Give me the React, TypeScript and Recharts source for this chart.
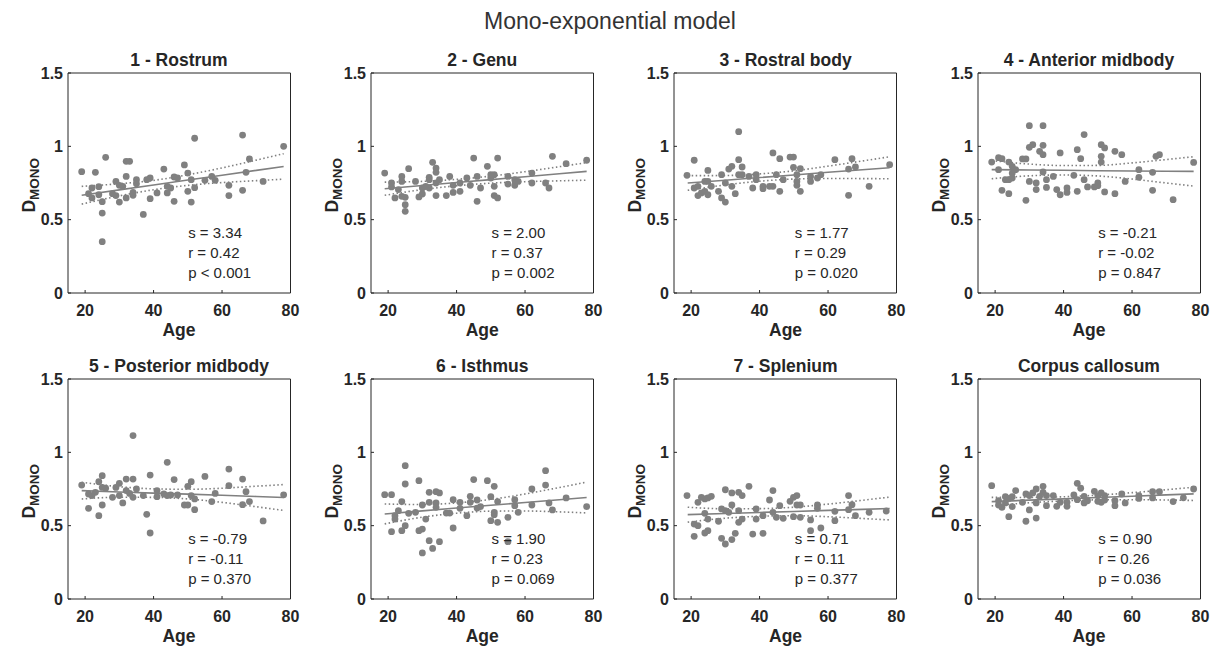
import React from 'react';
import { ComposedChart, Scatter, Line, XAxis, YAxis } from 'recharts';

const FONT = '"Liberation Sans", Arial, Helvetica, sans-serif';
const AXIS = '#262626';
const GREY = '#808080';

const mainTitle = 'Mono-exponential model';
const regionTitles = ['1 - Rostrum', '2 - Genu', '3 - Rostral body', '4 - Anterior midbody', '5 - Posterior midbody', '6 - Isthmus', '7 - Splenium', 'Corpus callosum'];
const slopeLabels = ['3.34', '2.00', '1.77', '-0.21', '-0.79', '1.90', '0.71', '0.90'];
const rLabels = ['0.42', '0.37', '0.29', '-0.02', '-0.11', '0.23', '0.11', '0.26'];
const pLabels = ['< 0.001', '= 0.002', '= 0.020', '= 0.847', '= 0.370', '= 0.069', '= 0.377', '= 0.036'];
const xTicks = [20, 40, 60, 80];
const yTicks = [0, 0.5, 1, 1.5];
const fitAges = [19, 30, 40, 50, 60, 70, 78];

const rostrumPts: [number, number][] = [
  [19, 0.827], [23, 0.823], [26, 0.925], [25, 0.35], [25, 0.545], [25, 0.623], [21, 0.677], [22, 0.716], [24, 0.725], [24, 0.67],
  [22, 0.648], [29, 0.761], [28, 0.677], [30, 0.734], [30, 0.62], [29, 0.664], [32, 0.898], [33, 0.898], [32, 0.795], [32, 0.648],
  [31, 0.727], [34, 0.686], [34, 0.666], [35, 0.773], [35, 0.745], [37, 0.536], [38, 0.773], [39, 0.784], [39, 0.643], [41, 0.682],
  [43, 0.845], [44, 0.682], [44, 0.727], [45, 0.716], [46, 0.625], [46, 0.791], [47, 0.784], [49, 0.873], [50, 0.818], [50, 0.693],
  [51, 0.773], [51, 0.62], [52, 1.055], [52, 0.718], [55, 0.768], [57, 0.795], [58, 0.768], [62, 0.734], [62, 0.664], [66, 1.077],
  [66, 0.7], [67, 0.823], [68, 0.914], [72, 0.761], [78, 1.0],
];
const genuPts: [number, number][] = [
  [19, 0.818], [21, 0.75], [21, 0.723], [22, 0.648], [23, 0.705], [24, 0.795], [24, 0.761], [24, 0.659], [25, 0.652], [25, 0.602],
  [25, 0.557], [26, 0.848], [28, 0.761], [29, 0.655], [30, 0.716], [30, 0.675], [31, 0.727], [32, 0.789], [32, 0.773], [32, 0.716],
  [33, 0.891], [34, 0.852], [34, 0.823], [34, 0.75], [34, 0.664], [35, 0.773], [37, 0.664], [38, 0.795], [39, 0.734], [39, 0.686],
  [41, 0.693], [41, 0.75], [43, 0.784], [44, 0.734], [45, 0.92], [46, 0.795], [46, 0.625], [47, 0.716], [49, 0.864], [50, 0.807],
  [50, 0.784], [51, 0.807], [51, 0.727], [51, 0.664], [52, 0.92], [52, 0.648], [55, 0.795], [55, 0.743], [57, 0.773], [57, 0.734],
  [58, 0.761], [62, 0.818], [62, 0.75], [66, 0.75], [67, 0.716], [68, 0.932], [72, 0.882], [78, 0.905],
];
const rostralBodyPts: [number, number][] = [
  [18.8, 0.802], [20.9, 0.905], [20.9, 0.716], [22, 0.727], [22, 0.664], [23, 0.682], [24, 0.761], [24, 0.693], [24.9, 0.836], [24.9, 0.761],
  [24.9, 0.67], [25.9, 0.727], [28, 0.693], [28.9, 0.807], [28.9, 0.648], [30, 0.75], [30, 0.62], [31, 0.845], [31.9, 0.864], [31.9, 0.727],
  [32.9, 0.677], [33.9, 1.1], [33.9, 0.909], [33.9, 0.807], [34.9, 0.859], [34.9, 0.807], [36.9, 0.795], [38, 0.716], [39, 0.807], [39, 0.773],
  [41, 0.727], [41, 0.711], [42.9, 0.727], [43.9, 0.955], [43.9, 0.727], [44.9, 0.807], [45.9, 0.916], [45.9, 0.693], [46.9, 0.773], [48.9, 0.927],
  [49.9, 0.927], [49.9, 0.857], [50.9, 0.807], [50.9, 0.761], [50.9, 0.734], [51.9, 0.848], [51.9, 0.693], [54.9, 0.795], [54.9, 0.761], [56.9, 0.784],
  [57.9, 0.807], [62, 0.909], [66, 0.845], [66, 0.666], [67, 0.916], [68, 0.859], [72, 0.727], [78, 0.875],
];
const anteriorMidbodyPts: [number, number][] = [
  [19, 0.893], [21, 0.923], [21, 0.841], [22, 0.916], [22, 0.7], [23, 0.773], [24, 0.893], [24, 0.773], [24, 0.677], [25, 0.864],
  [25, 0.818], [25, 0.784], [26, 0.841], [28, 0.914], [29, 0.914], [29, 0.632], [30, 1.141], [30, 0.993], [30, 0.761], [31, 1.011],
  [32, 0.75], [32, 0.705], [33, 0.966], [34, 1.141], [34, 1.007], [34, 0.943], [34, 0.825], [35, 0.773], [35, 0.72], [37, 0.795],
  [38, 0.705], [39, 0.955], [39, 0.67], [41, 0.716], [41, 0.686], [43, 0.802], [44, 0.977], [44, 0.693], [45, 0.916], [46, 1.08],
  [46, 0.773], [47, 0.723], [49, 0.723], [50, 0.732], [50, 0.75], [51, 1.011], [51, 0.932], [51, 0.893], [52, 0.989], [52, 0.689],
  [55, 0.966], [55, 0.677], [57, 0.943], [58, 0.761], [62, 0.841], [62, 0.789], [66, 0.823], [66, 0.7], [67, 0.932], [68, 0.943],
  [72, 0.636], [78, 0.89],
];
const posteriorMidbodyPts: [number, number][] = [
  [19, 0.777], [21, 0.618], [21, 0.716], [22, 0.705], [23, 0.727], [24, 0.8], [24, 0.568], [25, 0.841], [25, 0.761], [25, 0.641],
  [26, 0.755], [28, 0.693], [29, 0.761], [30, 0.789], [30, 0.705], [31, 0.655], [32, 0.818], [32, 0.739], [33, 0.72], [34, 1.114],
  [34, 0.818], [34, 0.693], [35, 0.75], [37, 0.705], [38, 0.577], [39, 0.845], [39, 0.45], [41, 0.739], [41, 0.698], [43, 0.716],
  [44, 0.932], [44, 0.705], [45, 0.709], [46, 0.814], [47, 0.709], [49, 0.641], [50, 0.641], [50, 0.768], [51, 0.8], [51, 0.705],
  [52, 0.609], [52, 0.682], [55, 0.836], [57, 0.664], [58, 0.72], [62, 0.886], [62, 0.773], [66, 0.818], [66, 0.643], [67, 0.732],
  [68, 0.664], [72, 0.532], [78, 0.71],
];
const isthmusPts: [number, number][] = [
  [19, 0.711], [21, 0.711], [21, 0.459], [22, 0.545], [22, 0.568], [23, 0.602], [24, 0.664], [24, 0.466], [25, 0.909], [25, 0.784],
  [25, 0.5], [26, 0.584], [28, 0.591], [29, 0.807], [29, 0.466], [30, 0.477], [30, 0.641], [30, 0.314], [31, 0.545], [32, 0.727],
  [32, 0.659], [32, 0.398], [33, 0.345], [34, 0.732], [34, 0.655], [34, 0.625], [35, 0.723], [35, 0.391], [37, 0.586], [38, 0.586],
  [39, 0.677], [39, 0.484], [41, 0.659], [41, 0.618], [43, 0.568], [44, 0.7], [44, 0.659], [45, 0.814], [46, 0.675], [46, 0.62],
  [47, 0.63], [49, 0.807], [50, 0.698], [50, 0.534], [51, 0.768], [51, 0.591], [51, 0.575], [52, 0.664], [52, 0.523], [55, 0.557],
  [55, 0.391], [57, 0.677], [57, 0.636], [58, 0.591], [62, 0.75], [62, 0.641], [66, 0.875], [66, 0.777], [67, 0.655], [68, 0.607],
  [72, 0.689], [78, 0.63],
];
const spleniumPts: [number, number][] = [
  [18.8, 0.705], [20.9, 0.511], [20.9, 0.427], [22, 0.5], [22, 0.659], [23, 0.693], [24, 0.682], [24, 0.584], [24, 0.45], [24.9, 0.466],
  [24.9, 0.545], [24.9, 0.689], [25.9, 0.7], [28, 0.53], [28.9, 0.614], [28.9, 0.414], [30, 0.745], [30, 0.602], [30, 0.375], [31, 0.591],
  [31.9, 0.723], [31.9, 0.641], [31.9, 0.405], [32.9, 0.448], [33.9, 0.727], [33.9, 0.602], [33.9, 0.523], [34.9, 0.705], [34.9, 0.545], [36.9, 0.768],
  [38, 0.443], [39, 0.614], [39, 0.545], [41, 0.568], [41, 0.448], [42.9, 0.675], [43.9, 0.739], [43.9, 0.591], [44.9, 0.557], [45.9, 0.636],
  [46.9, 0.55], [48.9, 0.666], [49.9, 0.693], [49.9, 0.561], [50.9, 0.705], [50.9, 0.641], [51.9, 0.641], [51.9, 0.557], [54.9, 0.539], [54.9, 0.466],
  [56.9, 0.641], [56.9, 0.618], [57.9, 0.484], [62, 0.598], [62, 0.534], [66, 0.705], [66, 0.609], [67, 0.643], [68, 0.568], [72, 0.591],
  [77, 0.6],
];
const corpusCallosumPts: [number, number][] = [
  [19, 0.773], [21, 0.641], [21, 0.67], [22, 0.625], [23, 0.698], [23, 0.655], [24, 0.561], [24, 0.686], [25, 0.698], [25, 0.63],
  [26, 0.739], [28, 0.659], [29, 0.716], [29, 0.53], [30, 0.607], [30, 0.705], [31, 0.723], [32, 0.75], [32, 0.552], [32, 0.655],
  [33, 0.7], [34, 0.768], [34, 0.727], [35, 0.705], [35, 0.636], [37, 0.705], [38, 0.632], [39, 0.659], [41, 0.659], [41, 0.632],
  [43, 0.709], [44, 0.789], [44, 0.677], [45, 0.755], [46, 0.7], [46, 0.655], [47, 0.67], [49, 0.734], [50, 0.705], [50, 0.666],
  [51, 0.723], [51, 0.659], [52, 0.705], [52, 0.675], [55, 0.67], [55, 0.636], [57, 0.716], [58, 0.655], [62, 0.705], [62, 0.686],
  [66, 0.732], [66, 0.689], [68, 0.732], [72, 0.664], [75, 0.69], [78, 0.75],
];

const rostrumFit = [0.666, 0.703, 0.736, 0.77, 0.803, 0.836, 0.863];
const rostrumHi = [0.727, 0.745, 0.768, 0.806, 0.853, 0.906, 0.95];
const rostrumLo = [0.606, 0.662, 0.704, 0.734, 0.753, 0.766, 0.776];
const genuFit = [0.711, 0.733, 0.753, 0.773, 0.793, 0.813, 0.829];
const genuHi = [0.756, 0.761, 0.775, 0.797, 0.827, 0.861, 0.889];
const genuLo = [0.666, 0.705, 0.731, 0.749, 0.759, 0.765, 0.769];
const rostralBodyFit = [0.75, 0.769, 0.787, 0.805, 0.823, 0.84, 0.854];
const rostralBodyHi = [0.8, 0.801, 0.812, 0.833, 0.865, 0.9, 0.929];
const rostralBodyLo = [0.7, 0.737, 0.762, 0.777, 0.781, 0.78, 0.779];
const anteriorFit = [0.841, 0.839, 0.837, 0.834, 0.832, 0.83, 0.829];
const anteriorHi = [0.903, 0.879, 0.869, 0.87, 0.887, 0.91, 0.929];
const anteriorLo = [0.779, 0.799, 0.805, 0.798, 0.777, 0.75, 0.729];
const posteriorFit = [0.739, 0.73, 0.722, 0.715, 0.707, 0.699, 0.692];
const posteriorHi = [0.796, 0.766, 0.751, 0.748, 0.755, 0.769, 0.78];
const posteriorLo = [0.682, 0.694, 0.693, 0.682, 0.659, 0.629, 0.604];
const isthmusFit = [0.58, 0.601, 0.62, 0.639, 0.658, 0.677, 0.692];
const isthmusHi = [0.648, 0.644, 0.655, 0.679, 0.716, 0.76, 0.797];
const isthmusLo = [0.512, 0.558, 0.585, 0.599, 0.6, 0.594, 0.587];
const spleniumFit = [0.575, 0.583, 0.59, 0.597, 0.604, 0.611, 0.617];
const spleniumHi = [0.626, 0.615, 0.616, 0.626, 0.647, 0.673, 0.695];
const spleniumLo = [0.524, 0.551, 0.564, 0.568, 0.561, 0.549, 0.539];
const ccFit = [0.664, 0.674, 0.683, 0.692, 0.701, 0.71, 0.717];
const ccHi = [0.693, 0.692, 0.697, 0.708, 0.725, 0.745, 0.762];
const ccLo = [0.635, 0.656, 0.669, 0.676, 0.677, 0.675, 0.672];

const panelPoints = [rostrumPts, genuPts, rostralBodyPts, anteriorMidbodyPts, posteriorMidbodyPts, isthmusPts, spleniumPts, corpusCallosumPts];
const panelFits = [
  [rostrumFit, rostrumHi, rostrumLo],
  [genuFit, genuHi, genuLo],
  [rostralBodyFit, rostralBodyHi, rostralBodyLo],
  [anteriorFit, anteriorHi, anteriorLo],
  [posteriorFit, posteriorHi, posteriorLo],
  [isthmusFit, isthmusHi, isthmusLo],
  [spleniumFit, spleniumHi, spleniumLo],
  [ccFit, ccHi, ccLo],
];

const PLOT_LEFT = [67.7, 371, 674.3, 977.7];
const PLOT_TOP = [73.3, 379.3];
const PW = 222.5;
const PH = 220;

const Dot = (props: any) => <circle cx={props.cx} cy={props.cy} r={3.4} fill={GREY} />;

const tickStyle = { fill: AXIS, fontSize: 16, fontWeight: 700, fontFamily: FONT };

function Panel({ idx }: { idx: number }) {
  const col = idx % 4;
  const row = Math.floor(idx / 4);
  const pl = PLOT_LEFT[col];
  const pt = PLOT_TOP[row];
  const pts = panelPoints[idx].map(([x, y]) => ({ x, y }));
  const [fit, hi, lo] = panelFits[idx];
  const lineData = fitAges.map((x, i) => ({ x, fit: fit[i], hi: hi[i], lo: lo[i] }));
  return (
    <div style={{ position: 'absolute', left: pl - 60, top: pt - 40 }}>
      <ComposedChart width={PW + 70} height={PH + 80} margin={{ top: 39, right: 9, bottom: 10, left: 0 }}>
        <XAxis
          xAxisId="b"
          type="number"
          dataKey="x"
          domain={[15, 80]}
          ticks={xTicks}
          interval={0}
          allowDataOverflow
          height={30}
          tickSize={-3}
          tickMargin={15}
          tick={tickStyle}
          stroke={AXIS}
          axisLine={{ stroke: AXIS }}
          tickLine={{ stroke: AXIS }}
        />
        <XAxis
          xAxisId="t"
          orientation="top"
          type="number"
          domain={[15, 80]}
          ticks={xTicks}
          interval={0}
          allowDataOverflow
          height={1}
          tickSize={-3}
          tick={false}
          axisLine={{ stroke: AXIS }}
          tickLine={{ stroke: AXIS }}
        />
        <YAxis
          yAxisId="l"
          type="number"
          dataKey="y"
          domain={[0, 1.5]}
          ticks={yTicks}
          interval={0}
          allowDataOverflow
          width={60}
          tickSize={-3}
          tickMargin={8}
          tick={tickStyle}
          axisLine={{ stroke: AXIS }}
          tickLine={{ stroke: AXIS }}
        />
        <YAxis
          yAxisId="r"
          orientation="right"
          type="number"
          domain={[0, 1.5]}
          ticks={yTicks}
          interval={0}
          allowDataOverflow
          width={1}
          tickSize={-3}
          tick={false}
          axisLine={{ stroke: AXIS }}
          tickLine={{ stroke: AXIS }}
        />
        <Scatter xAxisId="b" yAxisId="l" data={pts} dataKey="y" shape={Dot} isAnimationActive={false} />
        <Line xAxisId="b" yAxisId="l" data={lineData} dataKey="fit" type="linear" stroke={GREY} strokeWidth={1.6} dot={false} isAnimationActive={false} />
        <Line xAxisId="b" yAxisId="l" data={lineData} dataKey="hi" type="monotone" stroke={GREY} strokeWidth={1.6} strokeDasharray="1.5 2.5" dot={false} isAnimationActive={false} />
        <Line xAxisId="b" yAxisId="l" data={lineData} dataKey="lo" type="monotone" stroke={GREY} strokeWidth={1.6} strokeDasharray="1.5 2.5" dot={false} isAnimationActive={false} />
      </ComposedChart>
    </div>
  );
}

function PanelText({ idx }: { idx: number }) {
  const col = idx % 4;
  const row = Math.floor(idx / 4);
  const pl = PLOT_LEFT[col];
  const pt = PLOT_TOP[row];
  const cx = pl + PW / 2;
  const ax = pl + 120.5;
  const ay = pt + 159.5;
  return (
    <g fontFamily={FONT} fill={AXIS}>
      <text x={cx} y={pt - 13} textAnchor="middle" dominantBaseline="central" fontSize={17.5} fontWeight={700}>
        {regionTitles[idx]}
      </text>
      <text x={cx} y={pt + PH + 37} textAnchor="middle" dominantBaseline="central" fontSize={17.5} fontWeight={700}>
        Age
      </text>
      <text transform={`translate(${pl - 33},${pt + PH / 2 + 2}) rotate(-90)`} textAnchor="middle" fontWeight={700}>
        <tspan fontSize={17.5}>D</tspan>
        <tspan fontSize={13.5} dy={4}>MONO</tspan>
      </text>
      <text x={ax} y={ay} dominantBaseline="central" fontSize={15}>{`s = ${slopeLabels[idx]}`}</text>
      <text x={ax} y={ay + 20} dominantBaseline="central" fontSize={15}>{`r = ${rLabels[idx]}`}</text>
      <text x={ax} y={ay + 40} dominantBaseline="central" fontSize={15}>{`p ${pLabels[idx]}`}</text>
    </g>
  );
}

export default function App() {
  const idxs = [0, 1, 2, 3, 4, 5, 6, 7];
  return (
    <div style={{ position: 'absolute', left: 0, top: 0, width: 1220, height: 650, background: '#ffffff', overflow: 'hidden' }}>
      {idxs.map((i) => (
        <Panel key={i} idx={i} />
      ))}
      <svg width={1220} height={650} style={{ position: 'absolute', left: 0, top: 0, pointerEvents: 'none' }}>
        <text x={610} y={21} textAnchor="middle" dominantBaseline="central" fontFamily={FONT} fontSize={23} fill="#333333">
          {mainTitle}
        </text>
        {idxs.map((i) => (
          <PanelText key={i} idx={i} />
        ))}
      </svg>
    </div>
  );
}
